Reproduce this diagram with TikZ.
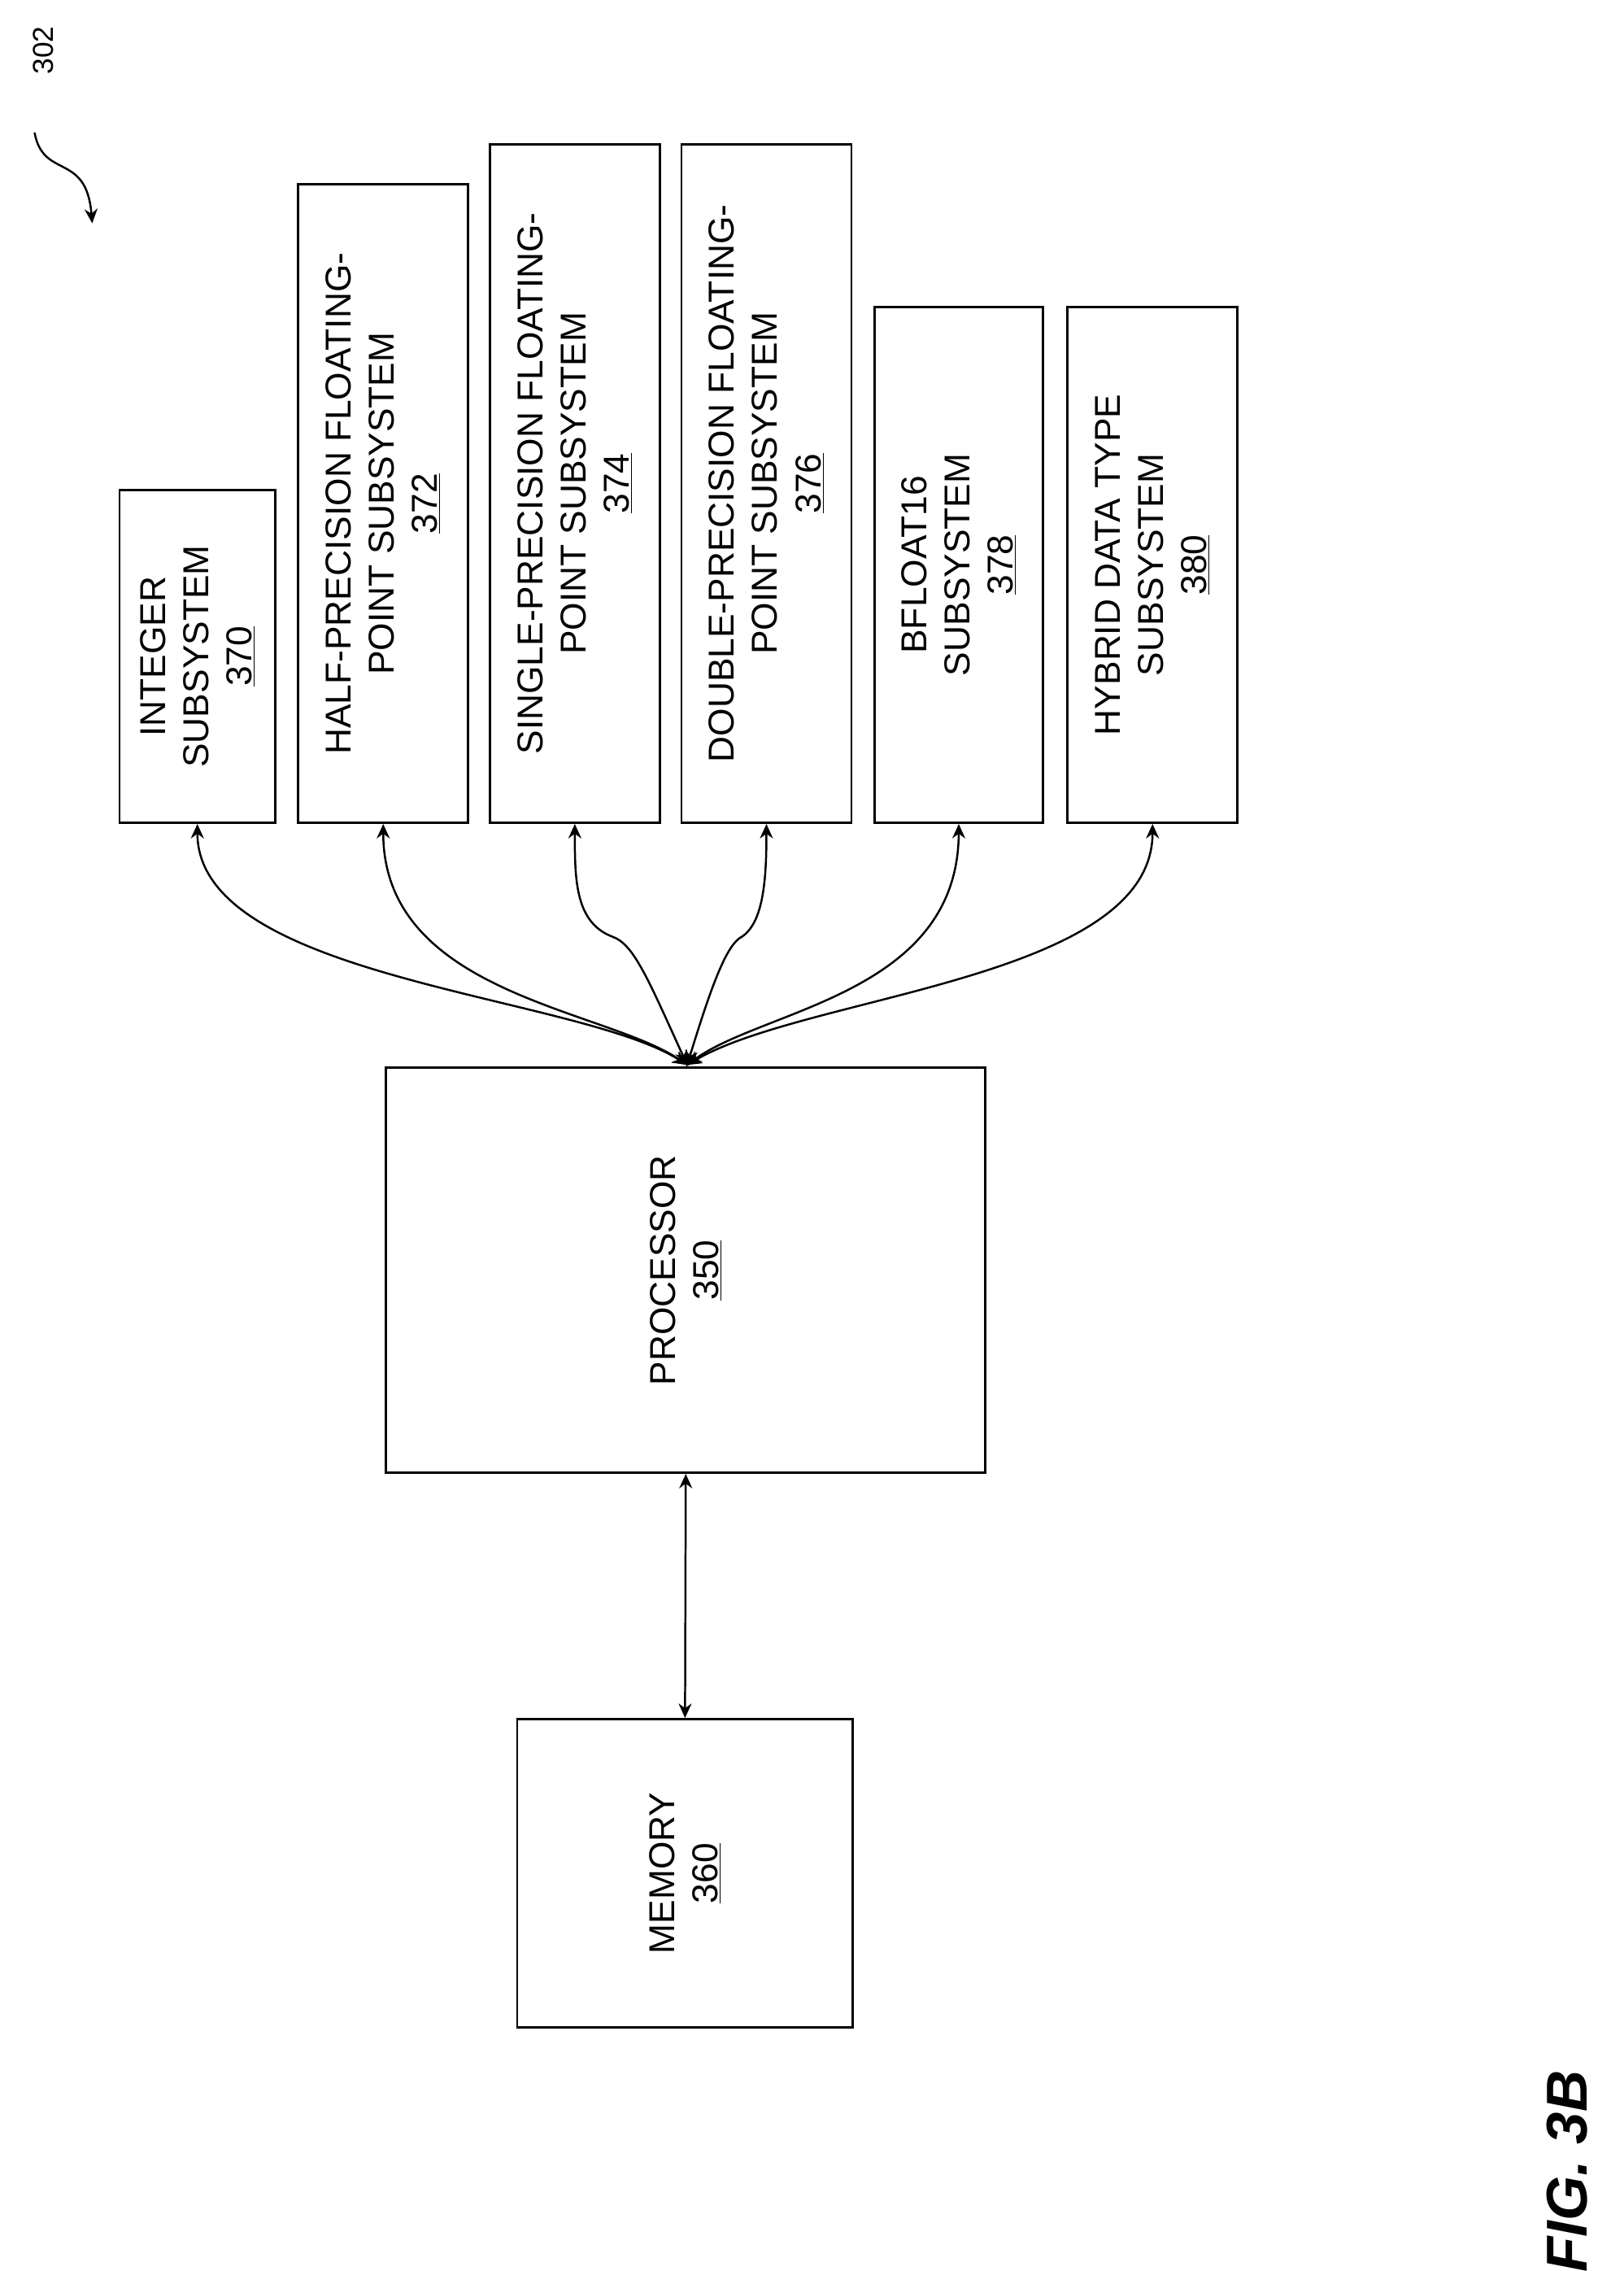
\documentclass[tikz,border=0pt]{standalone}
\usepackage{fontspec}
\setmainfont{Liberation Sans}
\usetikzlibrary{arrows.meta}
\tikzset{
  box/.style={draw, line width=1.6pt, rotate=90, align=center, inner sep=2pt,
    font=\fontsize{25}{30}\selectfont},
  link/.style={line width=1.4pt, {Stealth[length=10pt,width=9pt]}-{Stealth[length=10pt,width=9pt]}}
}
\begin{document}
\begin{tikzpicture}[x=1pt,y=-1pt]
  \useasboundingbox (0,0) rectangle (1127,1576);
  % subsystems
  \node (int) [box, minimum width=231pt, minimum height=108pt] at (137,455.5) {INTEGER\\SUBSYSTEM\\\underline{370}};
  \node (half) [box, minimum width=443pt, minimum height=118pt] at (266,349.5) {HALF-PRECISION FLOATING-\\POINT SUBSYSTEM\\\underline{372}};
  \node (single) [box, minimum width=471pt, minimum height=118pt] at (399,335.5) {SINGLE-PRECISION FLOATING-\\POINT SUBSYSTEM\\\underline{374}};
  \node (double) [box, minimum width=471pt, minimum height=118pt] at (532,335.5) {DOUBLE-PRECISION FLOATING-\\POINT SUBSYSTEM\\\underline{376}};
  \node (bf) [box, minimum width=358pt, minimum height=117pt] at (665.5,392) {BFLOAT16\\SUBSYSTEM\\\underline{378}};
  \node (hyb) [box, minimum width=358pt, minimum height=118pt] at (800,392) {HYBRID DATA TYPE\\SUBSYSTEM\\\underline{380}};
  % processor and memory
  \node (proc) [box, minimum width=281pt, minimum height=416pt] at (476,881.5) {PROCESSOR\\\underline{350}};
  \node (mem) [box, minimum width=214pt, minimum height=233pt] at (475.5,1300) {MEMORY\\\underline{360}};
  \coordinate (hub) at (477,739);
  % connectors
  \draw[link] (hub) .. controls (400,690) and (137,680) .. (int.west);
  \draw[link] (hub) .. controls (420,700) and (266,690) .. (half.west);
  \draw[link] (hub) .. controls (450,680) and (440,655) .. (425,650) .. controls (399,640) and (399,610) .. (single.west);
  \draw[link] (hub) .. controls (495,680) and (505,655) .. (515,650) .. controls (530,640) and (532,610) .. (double.west);
  \draw[link] (hub) .. controls (530,700) and (665,690) .. (bf.west);
  \draw[link] (hub) .. controls (560,690) and (800,680) .. (hyb.west);
  \draw[line width=1.4pt, -{Stealth[length=10pt,width=9pt]}] (hub) -- (proc.east);
  \draw[link] (proc.west) -- (mem.east);
  % labels
  \node (ref) [rotate=90, font=\fontsize{20}{24}\selectfont] at (30,35) {302};
  \coordinate (refa) at (24,92);
  \coordinate (refb) at (64,155);
  \draw[line width=1.4pt, -{Stealth[length=10pt,width=9pt]}] (refa) .. controls (30,125) and (60,105) .. (refb);
  \node (fig) [rotate=90, font=\fontsize{40}{48}\selectfont\bfseries\itshape] at (1088,1507) {FIG. 3B};
\end{tikzpicture}
\end{document}
